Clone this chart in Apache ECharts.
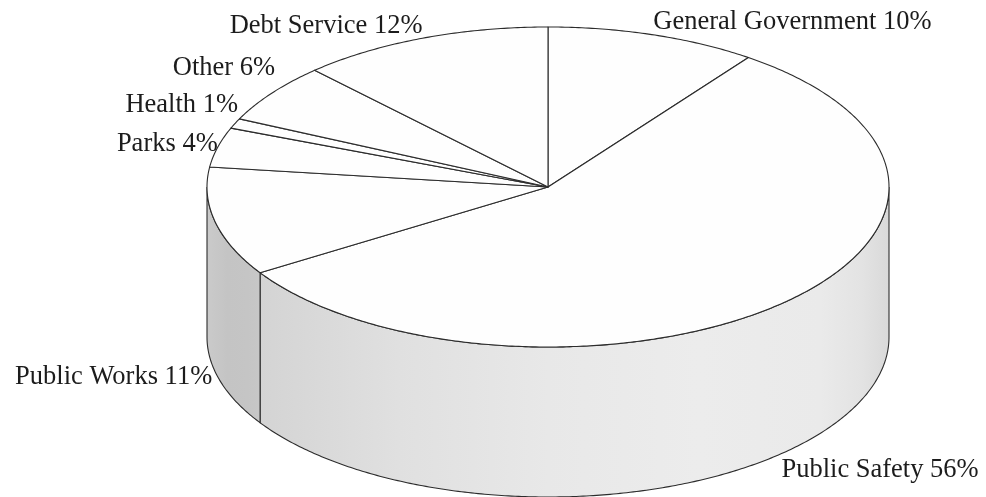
<!DOCTYPE html>
<html>
<head>
<meta charset="utf-8">
<script src="https://cdn.jsdelivr.net/npm/echarts@6/dist/echarts.min.js"></script>
<style>
  html, body { margin: 0; padding: 0; background: #ffffff; }
  #chart { width: 986px; height: 497px; }
</style>
</head>
<body>
<div id="chart"></div>
<script>
// Budget shares by function (percent of total)
const categories = ['General Government', 'Public Safety', 'Public Works', 'Parks', 'Health', 'Other', 'Debt Service'];
const shares = [10, 56, 11, 4, 1, 6, 12];

// Drawing settings for the tilted disc
const disc = { cx: 548, cy: 187, rx: 341, ry: 160, depth: 150 };
const edgeColor = '#2c2c2c';
const labelFont = '26.5px "Liberation Serif", "Times New Roman", serif';
// Side-wall shading across the visible front of the disc (left to right)
const wallShades = {
  'Public Works': [[0, '#cacaca'], [0.03, '#c4c4c4'], [0.06, '#c5c5c5'], [0.09, '#c9c9c9']],
  default: [[0, '#cfcfcf'], [0.08, '#d4d4d4'], [0.28, '#e0e0e0'], [0.5, '#e8e8e8'],
            [0.72, '#ececec'], [0.9, '#eaeaea'], [0.96, '#e3e3e3'], [1, '#d9d9d9']]
};
// Small label shifts that keep neighbouring labels apart
const labelNudge = {
  'Other': [3, -17], 'Health': [3, -13], 'Public Works': [-3, 2], 'Public Safety': [0, 7]
};

const total = shares.reduce((a, b) => a + b, 0);
let running = 0;
const pieData = categories.map((name, i) => {
  const item = { name, value: [shares[i], running] };
  running += shares[i];
  return item;
});

function rimPoint(theta, drop) {
  return [disc.cx + disc.rx * Math.sin(theta), disc.cy - disc.ry * Math.cos(theta) + (drop || 0)];
}
function arc(a0, a1, drop) {
  const pts = [];
  const steps = Math.max(2, Math.ceil(Math.abs(a1 - a0) / 0.01));
  for (let k = 0; k <= steps; k++) pts.push(rimPoint(a0 + (a1 - a0) * k / steps, drop));
  return pts;
}

function renderSlice(params, api) {
  const name = categories[params.dataIndex];
  const share = api.value(0);
  const start = api.value(1);
  const a0 = start / total * Math.PI * 2;
  const a1 = (start + share) / total * Math.PI * 2;
  const children = [];

  // Visible side wall: the front half of the rim, from 90° to 270° clockwise from top
  const w0 = Math.max(a0, Math.PI / 2);
  const w1 = Math.min(a1, Math.PI * 1.5);
  if (w1 > w0) {
    const pts = arc(w0, w1, 0).concat(arc(w1, w0, disc.depth));
    const stops = (wallShades[name] || wallShades.default).map(s => ({ offset: s[0], color: s[1] }));
    children.push({
      type: 'polygon',
      shape: { points: pts },
      style: {
        fill: new echarts.graphic.LinearGradient(disc.cx - disc.rx, 0, disc.cx + disc.rx, 0, stops, true),
        stroke: edgeColor, lineWidth: 1.1
      }
    });
  }

  // Top face of the slice
  children.push({
    type: 'polygon',
    shape: { points: [[disc.cx, disc.cy]].concat(arc(a0, a1, 0)) },
    style: { fill: '#fefefe', stroke: edgeColor, lineWidth: 1.1, lineJoin: 'round' }
  });

  // Label at the outer rim, beside the slice's middle angle
  const mid = (a0 + a1) / 2;
  const s = Math.sin(mid), c = Math.cos(mid);
  const p = rimPoint(mid, c >= 0 ? 0 : disc.depth);
  const nudge = labelNudge[name] || [0, 0];
  children.push({
    type: 'text',
    style: {
      text: name + ' ' + share + '%',
      x: p[0] + nudge[0],
      y: p[1] - c * 13 + nudge[1],
      align: s >= 0 ? 'left' : 'right',
      verticalAlign: 'middle',
      font: labelFont,
      fill: '#1c1c1c'
    }
  });

  return { type: 'group', children };
}

const chart = echarts.init(document.getElementById('chart'), null, { renderer: 'canvas' });
chart.setOption({
  backgroundColor: '#ffffff',
  animation: false,
  series: [{
    type: 'custom',
    coordinateSystem: 'none',
    silent: true,
    renderItem: renderSlice,
    data: pieData
  }]
});
</script>
</body>
</html>
